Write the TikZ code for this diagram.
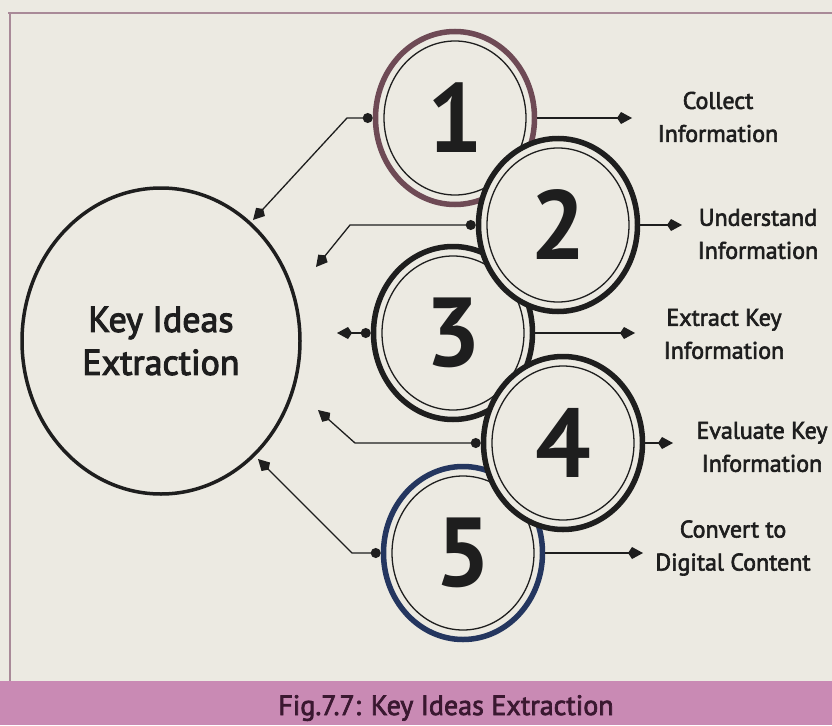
\documentclass[tikz,border=0pt]{standalone}
\usepackage{fontspec}
\setmainfont{PT Sans}
\newfontfamily\semibold{PT Sans}[FakeBold=3]
\newfontfamily\lblfont{PT Sans}[FakeBold=2.5]
\usetikzlibrary{shapes.geometric,arrows.meta}
\definecolor{paper}{HTML}{ECEAE2}
\definecolor{capbar}{HTML}{C98AB4}
\definecolor{bordercol}{HTML}{A98A98}
\definecolor{ink}{HTML}{1E1E1E}
\definecolor{mauve}{HTML}{6E4A55}
\definecolor{navy}{HTML}{24365F}
\definecolor{captext}{HTML}{3A1830}
\begin{document}
\begin{tikzpicture}[x=1pt,y=-1pt,
  numcirc/.style={ellipse, minimum width=159pt, minimum height=173pt, inner sep=0pt,
    line width=5.5pt, fill=paper, text=ink, font=\fontsize{98}{98}\selectfont\bfseries},
  innerring/.style={draw=ink, line width=1.3pt},
  keycirc/.style={ellipse, draw=ink, line width=3.5pt, minimum width=278pt, minimum height=306pt,
    inner sep=0pt, align=center, text=ink, font=\fontsize{36}{43}\semibold},
  lbl/.style={align=center, text=ink, inner sep=0pt, font=\fontsize{24}{33}\lblfont},
  lconn/.style={draw=ink, line width=1.3pt, arrows={Circle[length=10pt]-Kite[length=15pt,width=12pt,inset=4pt]}},
  rconn/.style={draw=ink, line width=1.3pt, arrows={-Kite[length=15pt,width=12pt,inset=4pt]}},
  bordline/.style={draw=bordercol, line width=2.5pt}
]
\useasboundingbox (0,0) rectangle (832,725);
\fill[paper] (0,0) rectangle (832,725);
\fill[capbar] (0,681) rectangle (832,725);
\draw[bordline] (8,13) -- (832,13);
\draw[bordline] (10,13) -- (10,681);

% central circle
\node[keycirc] (key) at (161,341) {Key Ideas\\Extraction};

% numbered circles, lower layer
\node[numcirc, draw=mauve] (n1) at (455,118) {1};
\draw[innerring] (n1.center) ellipse [x radius=71pt, y radius=77pt];
\node[numcirc, draw=ink] (n3) at (453,333) {3};
\draw[innerring] (n3.center) ellipse [x radius=71pt, y radius=77pt];
\node[numcirc, draw=navy] (n5) at (463,553) {5};
\draw[innerring] (n5.center) ellipse [x radius=71pt, y radius=77pt];
% upper layer
\node[numcirc, draw=ink] (n2) at (558,225) {2};
\draw[innerring] (n2.center) ellipse [x radius=71pt, y radius=77pt];
\node[numcirc, draw=ink] (n4) at (563,443) {4};
\draw[innerring] (n4.center) ellipse [x radius=71pt, y radius=77pt];

% labels
\node[lbl] (l1) at (718,117) {Collect\\Information};
\node[lbl] (l2) at (758,234) {Understand\\Information};
\node[lbl] (l3) at (724,334) {Extract Key\\Information};
\node[lbl] (l4) at (762,447) {Evaluate Key\\Information};
\node[lbl] (l5) at (733,548) {Convert to\\Digital Content};

% coordinates
\coordinate (r1) at (632,118);
\coordinate (r2) at (682,225);
\coordinate (r3) at (635,333);
\coordinate (r4) at (673,443);
\coordinate (r5) at (643,553);
\coordinate (b1) at (347,118);
\coordinate (t1) at (253,220);
\coordinate (b2) at (350,225);
\coordinate (t2) at (316,267);
\coordinate (t3) at (337,333);
\coordinate (b4) at (355,443);
\coordinate (t4) at (318,410);
\coordinate (b5) at (352,553);
\coordinate (t5) at (258,459);

% right connectors
\draw[rconn] (n1.east) -- (r1);
\draw[rconn] (n2.east) -- (r2);
\draw[rconn] (n3.east) -- (r3);
\draw[rconn] (n4.east) -- (r4);
\draw[rconn] (n5.east) -- (r5);

% left connectors
\draw[lconn] (n1.west) -- (b1) -- (t1);
\draw[lconn] (n2.west) -- (b2) -- (t2);
\draw[lconn] (n3.west) -- (t3);
\draw[lconn] (n4.west) -- (b4) -- (t4);
\draw[lconn] (n5.west) -- (b5) -- (t5);

% caption
\node[text=captext, inner sep=0pt, font=\fontsize{28}{28}\lblfont, anchor=base] (cap) at (446,715) {Fig.7.7: Key Ideas Extraction};
\end{tikzpicture}
\end{document}
